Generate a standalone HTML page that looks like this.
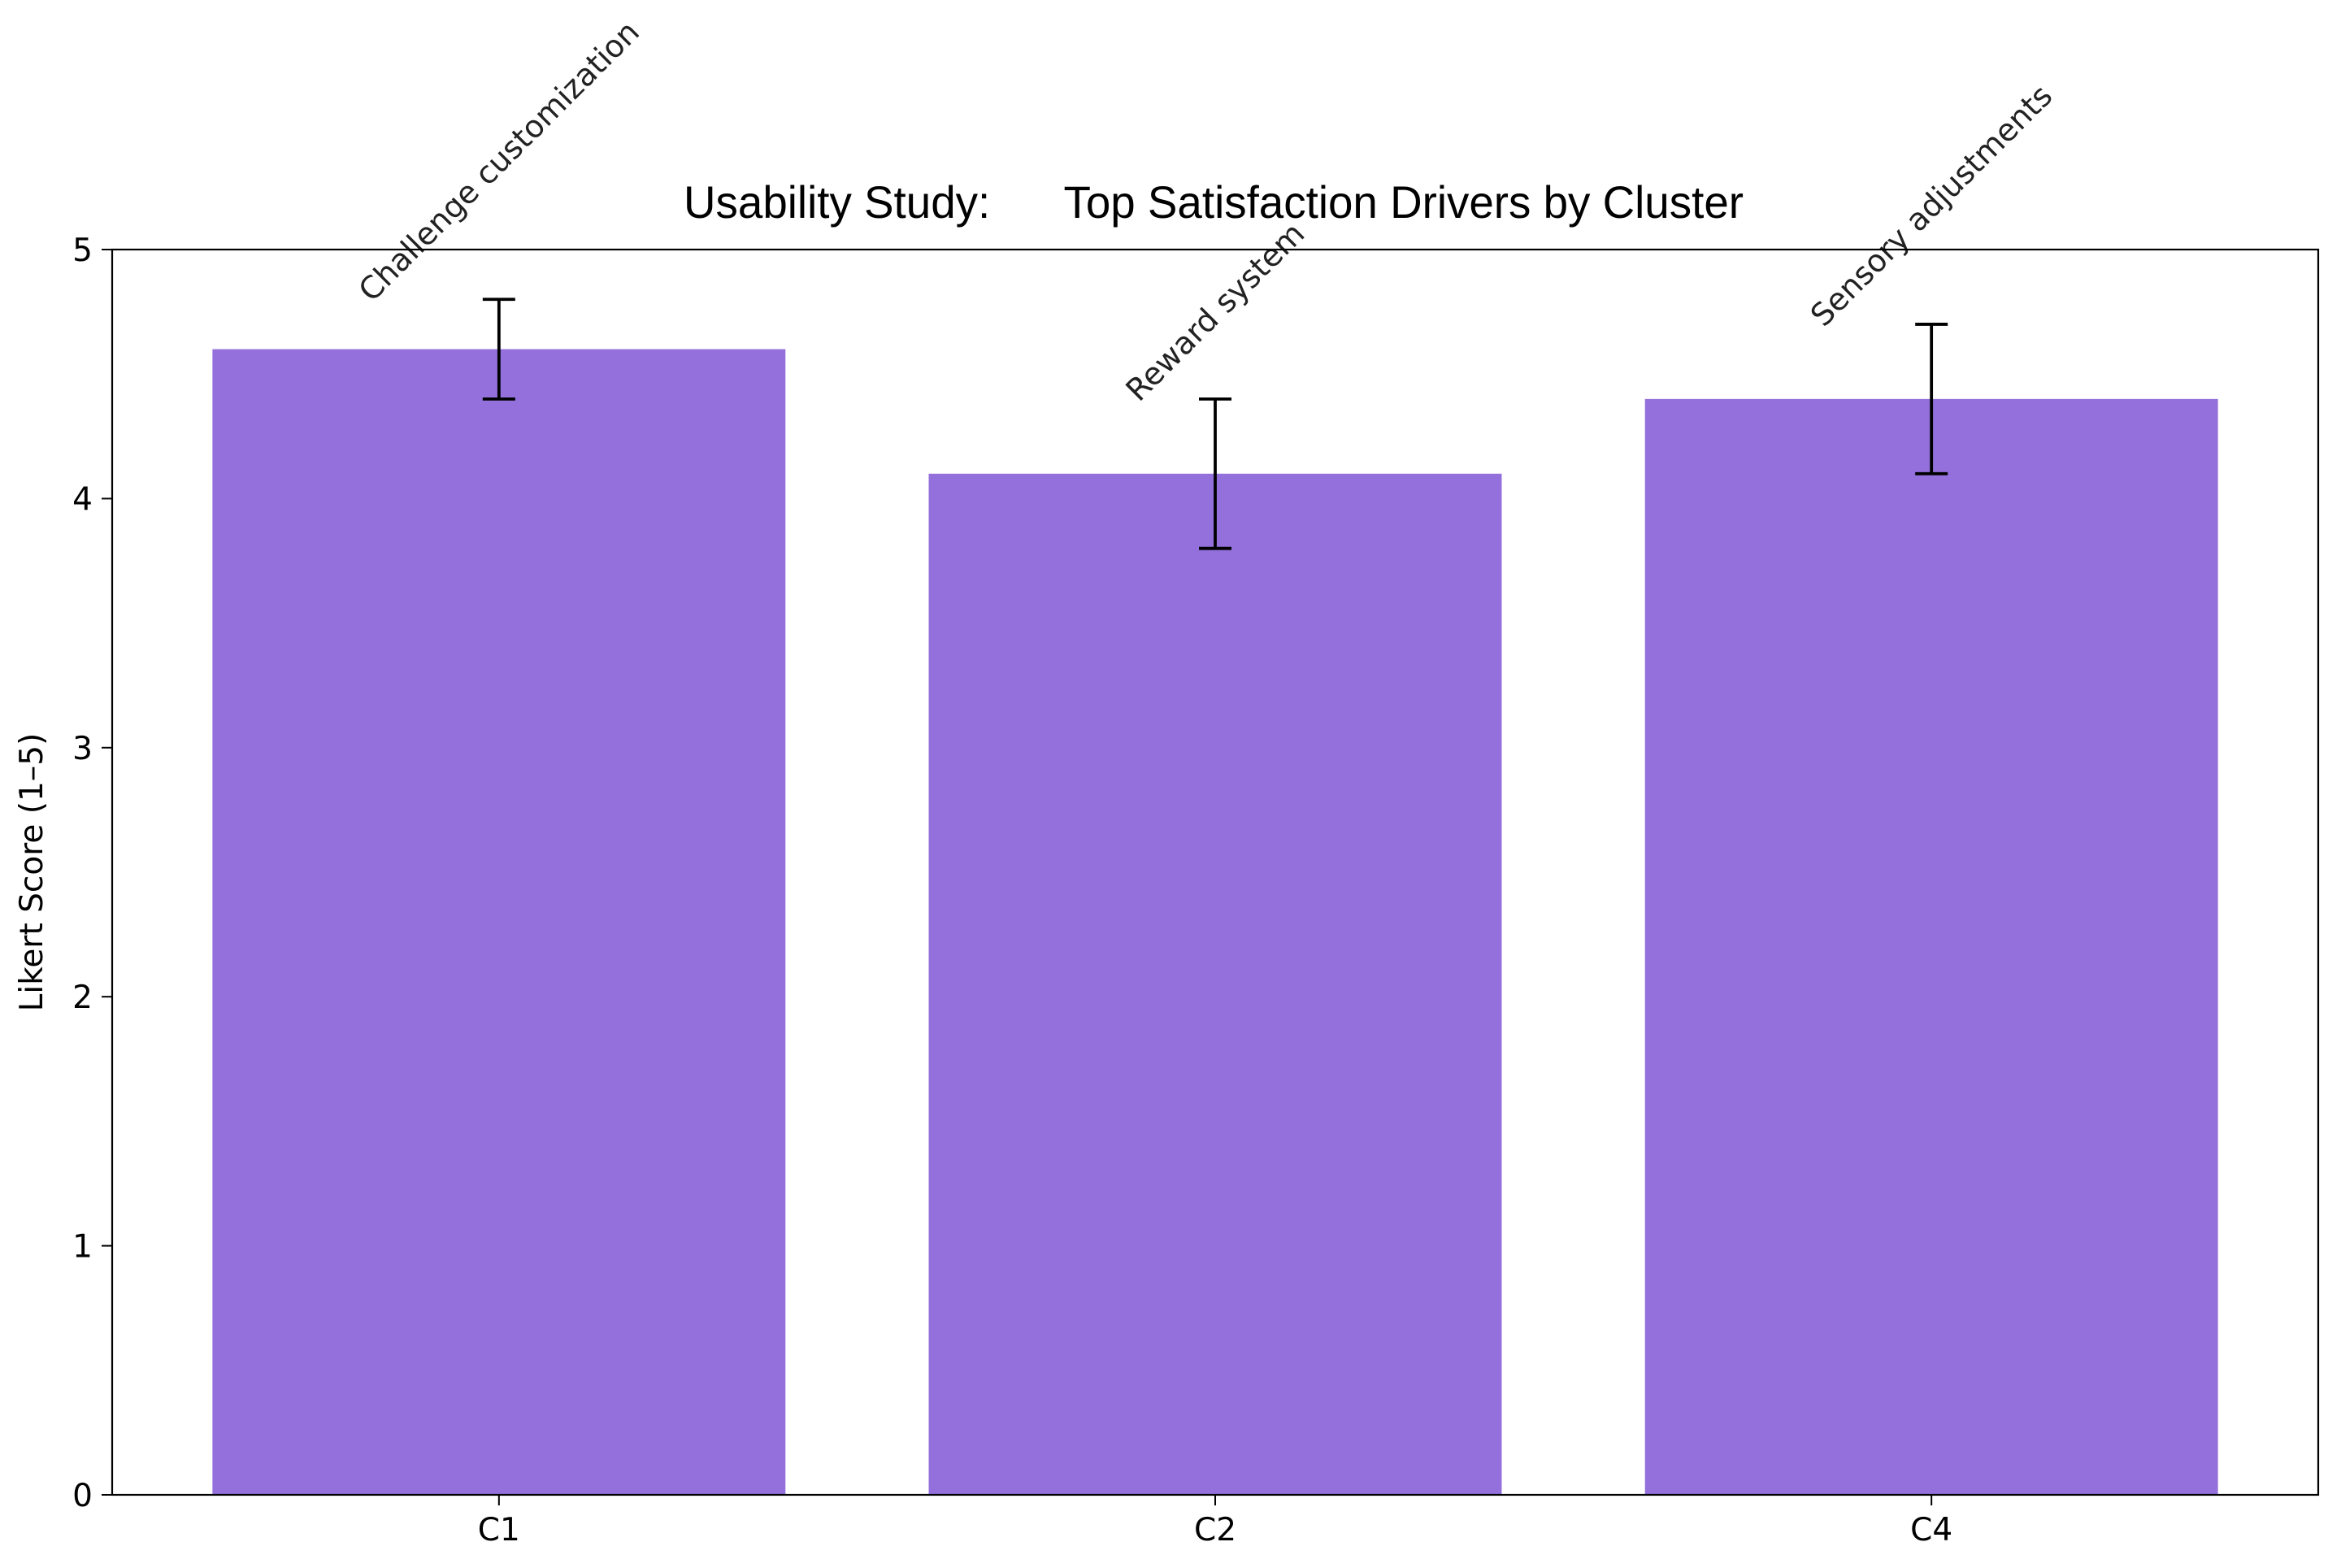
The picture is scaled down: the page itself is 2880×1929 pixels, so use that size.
<!DOCTYPE html>
<html><head><meta charset="utf-8">
<style>
html,body{margin:0;padding:0;background:#fff;}
svg{display:block;font-family:"DejaVu Sans","Liberation Sans",sans-serif;}
</style></head>
<body>
<svg id="chart" width="2880" height="1929" viewBox="0 0 2880 1929" xmlns="http://www.w3.org/2000/svg">
<rect width="2880" height="1929" fill="#fff"/>
<text id="title" x="1493" y="268" font-size="56" text-anchor="middle" font-family="Liberation Sans Narrow, Liberation Sans, sans-serif" textLength="1304" lengthAdjust="spacingAndGlyphs" xml:space="preserve">Usability Study:      Top Satisfaction Drivers by Cluster</text>
<g id="plot"></g>
<text x="52" y="1073" font-size="39" text-anchor="middle" transform="rotate(-90 52 1073)">Likert Score (1–5)</text>
</svg>
<script>
const categories = ["C1", "C2", "C4"];
const values = [4.6, 4.1, 4.4];
const errors = [0.2, 0.3, 0.3];
const drivers = ["Challenge customization", "Reward system", "Sensory adjustments"];
const yTicks = [0, 1, 2, 3, 4, 5];

const L = 138, R = 2852, T = 307, B = 1839;
const xMin = -0.54, xMax = 2.54, yMin = 0, yMax = 5;
const NS = "http://www.w3.org/2000/svg";
const g = document.getElementById('plot');
function xs(v){ return L + (v - xMin) / (xMax - xMin) * (R - L); }
function ys(v){ return B - (v - yMin) / (yMax - yMin) * (B - T); }
function mk(tag, attrs, parent){
  const e = document.createElementNS(NS, tag);
  for (const k in attrs) e.setAttribute(k, attrs[k]);
  (parent || g).appendChild(e);
  return e;
}
const barW = 0.8;
categories.forEach((c, i) => {
  const b = mk('rect', {x: xs(i - barW/2), y: ys(values[i]), width: xs(i + barW/2) - xs(i - barW/2), height: ys(0) - ys(values[i]), fill: '#9370DB'});
  
  
  const cx = xs(i), top = ys(values[i] + errors[i]), bot = ys(values[i] - errors[i]);
  const eg = mk('g', {stroke: '#000', 'stroke-width': 3.8});
  
  
  mk('line', {x1: cx, x2: cx, y1: top, y2: bot}, eg);
  mk('line', {x1: cx - 20, x2: cx + 20, y1: top, y2: top}, eg);
  mk('line', {x1: cx - 20, x2: cx + 20, y1: bot, y2: bot}, eg);
  const t = mk('text', {'font-size': 38, 'text-anchor': 'middle', 'dominant-baseline': 'central', fill: '#222'});
  t.textContent = drivers[i];
  
  
  const len = t.getComputedTextLength();
  const h = 38;
  const half = (len + h) / (2 * Math.SQRT2);
  const ty = top + 9 - half;
  t.setAttribute('x', cx); t.setAttribute('y', ty);
  t.setAttribute('transform', 'rotate(-45 ' + cx + ' ' + ty + ')');
  mk('line', {x1: cx, x2: cx, y1: B, y2: B + 13, stroke: '#000', 'stroke-width': 2});
  const xl = mk('text', {x: cx, y: B + 56, 'font-size': 39, 'text-anchor': 'middle', fill: '#000'});
  xl.textContent = c;
  
  
});
yTicks.forEach(v => {
  mk('line', {x1: L - 13, x2: L, y1: ys(v), y2: ys(v), stroke: '#000', 'stroke-width': 2});
  const yl = mk('text', {x: L - 24, y: ys(v) + 14, 'font-size': 39, 'text-anchor': 'end', fill: '#000'});
  yl.textContent = v;
  
  
});
const frame = mk('rect', {x: L, y: T, width: R - L, height: B - T, fill: 'none', stroke: '#000', 'stroke-width': 2.2});


</script>
</body></html>
